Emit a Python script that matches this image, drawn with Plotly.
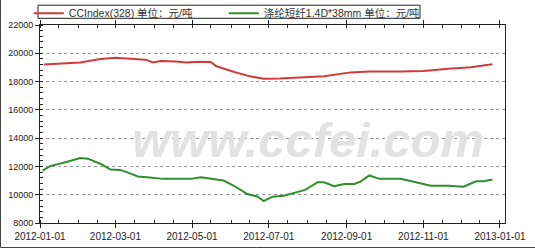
import plotly.graph_objects as go
import pandas as pd

red_dates = ["2012-01-04","2012-01-17","2012-02-02","2012-02-18","2012-03-01","2012-03-13","2012-03-25",
             "2012-03-31","2012-04-06","2012-04-18","2012-04-26","2012-05-08","2012-05-16","2012-05-20",
             "2012-06-01","2012-06-16","2012-06-27","2012-07-10","2012-07-26","2012-08-14","2012-09-04",
             "2012-09-20","2012-10-14","2012-11-01","2012-11-21","2012-12-09","2012-12-26"]
red_vals = [19200,19250,19350,19600,19680,19620,19550,
            19350,19450,19420,19350,19400,19380,19100,
            18750,18370,18200,18220,18280,18380,18650,
            18720,18720,18740,18900,19010,19220]

green_dates = ["2012-01-03","2012-01-09","2012-01-22","2012-02-02","2012-02-08","2012-02-18","2012-02-26",
               "2012-03-05","2012-03-10","2012-03-19","2012-03-26","2012-04-08","2012-04-30","2012-05-08",
               "2012-05-26","2012-06-03","2012-06-14","2012-06-22","2012-06-27","2012-07-04","2012-07-13",
               "2012-07-21","2012-07-30","2012-08-09","2012-08-14","2012-08-22","2012-08-30","2012-09-07",
               "2012-09-12","2012-09-19","2012-09-27","2012-10-14","2012-10-30","2012-11-07","2012-11-21",
               "2012-12-03","2012-12-07","2012-12-13","2012-12-19","2012-12-26"]
green_vals = [11710,12020,12310,12600,12550,12190,11790,
              11740,11600,11290,11240,11120,11120,11240,
              11000,10650,10050,9880,9550,9860,9930,
              10120,10340,10880,10880,10600,10760,10760,
              10930,11360,11120,11120,10810,10640,10640,
              10570,10720,10950,10950,11070]

series_names = ["CCIndex(328) 单位：元/吨", "涤纶短纤1.4D*38mm 单位：元/吨"]
x_ticks = ["2012-01-01","2012-03-01","2012-05-01","2012-07-01","2012-09-01","2012-11-01","2013-01-01"]
y_ticks = [8000,10000,12000,14000,16000,18000,20000,22000]
y_labels = [str(v) for v in y_ticks]
minor_x = [d.strftime("%Y-%m-%d") for m in pd.date_range("2012-01-01","2013-01-01",freq="MS")
           for d in (m, m + pd.Timedelta(days=15))]

font_fam = "Liberation Sans, Arial, Noto Sans CJK SC, sans-serif"

fig = go.Figure()
fig.add_trace(go.Scatter(x=red_dates, y=red_vals, mode="lines", name=series_names[0],
                         line=dict(color="#d03a3a", width=2)))
fig.add_trace(go.Scatter(x=green_dates, y=green_vals, mode="lines", name=series_names[1],
                         line=dict(color="#2f8f2f", width=2)))

fig.add_annotation(text="<b><i>www.ccfei.com</i></b>", xref="paper", yref="paper",
                   x=0.577, y=0.42, showarrow=False,
                   font=dict(family="Liberation Sans, Arial", size=49, color="#e2e2e2"))

PW, PH = 465, 198
fig.update_layout(
    width=535, height=248,
    margin=dict(l=40, r=30, t=25, b=25, autoexpand=False),
    paper_bgcolor="white", plot_bgcolor="white",
    font=dict(family=font_fam, size=10, color="#222"),
    showlegend=True,
    legend=dict(orientation="h", x=-0.024, y=1.132, xanchor="left", yanchor="top",
                bgcolor="rgba(0,0,0,0)", borderwidth=0,
                font=dict(size=10.5, color="#333", family=font_fam),
                entrywidth=150, itemwidth=30, tracegroupgap=0),
    shapes=[dict(type="rect", xref="paper", yref="paper",
                 x0=-39.5/PW, x1=534.5/PW, y0=-24.5/PH, y1=247.5/PH,
                 line=dict(color="#444", width=1), layer="below"),
            dict(type="rect", xref="paper", yref="paper",
                 x0=-2/PW, x1=380/PW, y0=(223-18.3)/PH, y1=(223-5.2)/PH,
                 line=dict(color="#222", width=1), fillcolor="white", layer="above")],
)
fig.update_xaxes(type="date", range=["2012-01-01", "2013-01-05"],
                 tickvals=x_ticks, ticktext=x_ticks, tickangle=0,
                 showgrid=False, showline=True, linecolor="#222", linewidth=1, mirror="ticks",
                 ticks="outside", ticklen=4, tickcolor="#222",
                 minor=dict(tickvals=minor_x, ticks="inside", ticklen=3, tickcolor="#222", showgrid=False),
                 zeroline=False, tickfont=dict(size=10))
fig.update_yaxes(range=[8000, 22000], tickvals=y_ticks, ticktext=y_labels, showgrid=True,
                 gridcolor="#999", griddash="dot", gridwidth=1,
                 showline=True, linecolor="#222", linewidth=1, mirror=True,
                 ticks="outside", ticklen=4, tickcolor="#222",
                 minor=dict(dtick=400, ticks="inside", ticklen=3, tickcolor="#222", showgrid=False),
                 zeroline=False, tickfont=dict(size=9))

fig.write_html("out.html")
